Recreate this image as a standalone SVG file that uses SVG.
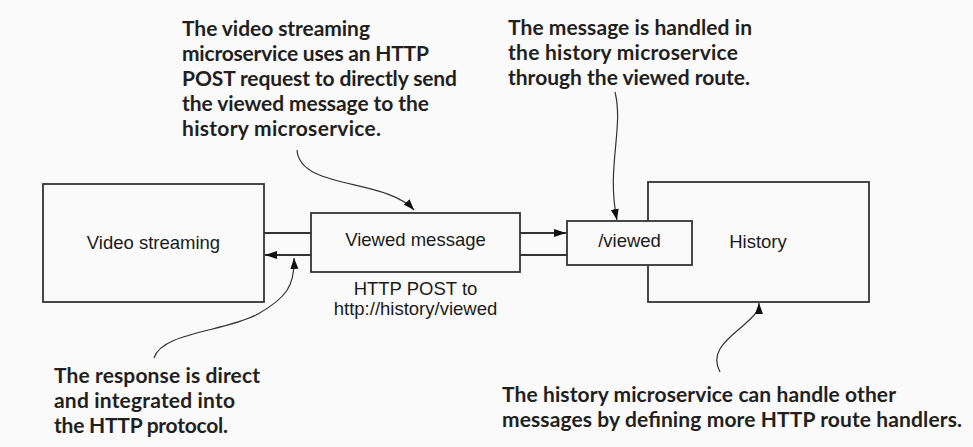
<svg xmlns="http://www.w3.org/2000/svg" width="973" height="447" viewBox="0 0 973 447">
<style>
.box{fill:#fafafa;stroke:#333;stroke-width:1.8}
.lbl{font-family:"Liberation Sans",Arial,sans-serif;font-size:18.5px;fill:#1a1a1a}
.note{font-family:Lato,"Open Sans",sans-serif;font-weight:bold;font-size:21px;fill:#231f20}
.conn{fill:none;stroke:#333;stroke-width:1.8}
.call{fill:none;stroke:#333;stroke-width:1.2}
</style>
<defs>
<marker id="ah" markerUnits="userSpaceOnUse" markerWidth="13" markerHeight="9" refX="12" refY="4" orient="auto">
<path d="M0,0 L12,4 L0,8 z" fill="#111"/>
</marker>
<marker id="ch" markerUnits="userSpaceOnUse" markerWidth="13" markerHeight="9" refX="11" refY="4" orient="auto">
<path d="M0,0 L11,4 L0,8 z" fill="#111"/>
</marker>
</defs>
<rect x="0" y="0" width="973" height="447" fill="#fafafa"/>

<g id="video-streaming">
<rect class="box" x="43" y="184" width="221" height="118"/>
<text class="lbl" x="153.5" y="249" text-anchor="middle">Video streaming</text>
</g>
<g id="viewed-message">
<rect class="box" x="311" y="213" width="209" height="59"/>
<text class="lbl" x="415.5" y="246" text-anchor="middle">Viewed message</text>
<text class="lbl" x="415.5" y="295" text-anchor="middle">HTTP POST to</text>
<text class="lbl" x="415.5" y="315" text-anchor="middle">http://history/viewed</text>
</g>
<g id="history">
<rect class="box" x="648" y="182" width="221" height="120"/>
<text class="lbl" x="758" y="248" text-anchor="middle">History</text>
</g>
<g id="viewed-route">
<rect class="box" x="567" y="221" width="125" height="44"/>
<text class="lbl" x="629.5" y="247" text-anchor="middle">/viewed</text>
</g>

<g id="connectors">
<path class="conn" d="M264,233 L311,233"/>
<path class="conn" d="M311,255 L265,255" marker-end="url(#ah)"/>
<path class="conn" d="M520,233 L566,233" marker-end="url(#ah)"/>
<path class="conn" d="M567,255 L520,255"/>
<path class="call" d="M297,150 C300,190 385,178 414,210" marker-end="url(#ch)"/>
<path class="call" d="M615,92 C624,128 606,168 617,220" marker-end="url(#ch)"/>
<path class="call" d="M154,358 C162,332 225,332 258,314 C286,298 295,286 294,258" marker-end="url(#ch)"/>
<path class="call" d="M720,372 C708,350 732,336 746,323 C757,313 759,310 759,303" marker-end="url(#ch)"/>
</g>

<g id="note-top-left">
<text class="note" x="182" y="36" textLength="188">The video streaming</text>
<text class="note" x="182" y="61" textLength="247">microservice uses an HTTP</text>
<text class="note" x="182" y="86" textLength="275">POST request to directly send</text>
<text class="note" x="182" y="111" textLength="247">the viewed message to the</text>
<text class="note" x="182" y="136" textLength="199">history microservice.</text>
</g>
<g id="note-top-right">
<text class="note" x="508" y="35" textLength="244">The message is handled in</text>
<text class="note" x="508" y="60" textLength="230">the history microservice</text>
<text class="note" x="508" y="85" textLength="242">through the viewed route.</text>
</g>
<g id="note-bottom-left">
<text class="note" x="54" y="383" textLength="206">The response is direct</text>
<text class="note" x="54" y="408" textLength="181">and integrated into</text>
<text class="note" x="54" y="433" textLength="174">the HTTP protocol.</text>
</g>
<g id="note-bottom-right">
<text class="note" x="502" y="402" textLength="394">The history microservice can handle other</text>
<text class="note" x="502" y="427" textLength="460">messages by defining more HTTP route handlers.</text>
</g>
</svg>
